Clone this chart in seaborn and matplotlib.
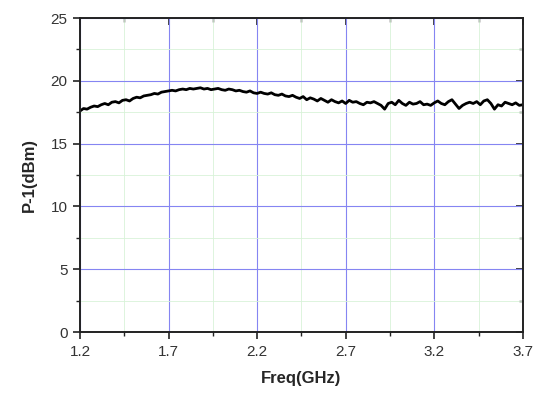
import numpy as np
import pandas as pd
import seaborn as sns
import matplotlib.pyplot as plt
from matplotlib.ticker import AutoMinorLocator

freq_ghz = np.round(np.arange(1.20, 3.7001, 0.02), 2)
p1_dbm = [
    17.6, 17.8, 17.75, 17.9, 18.0, 17.95, 18.1, 18.2, 18.1, 18.3, 18.35, 18.25, 18.45,
    18.5, 18.4, 18.6, 18.7, 18.65, 18.8, 18.85, 18.9, 19.0, 18.95, 19.1, 19.15, 19.2,
    19.25, 19.2, 19.3, 19.35, 19.3, 19.4, 19.35, 19.4, 19.45, 19.35, 19.4, 19.3, 19.35,
    19.4, 19.3, 19.25, 19.35, 19.3, 19.2, 19.25, 19.15, 19.1, 19.2, 19.05, 19.0,
    19.1, 19.0, 18.95, 19.05, 18.9, 18.85, 18.95, 18.8, 18.75, 18.85, 18.7, 18.6, 18.75,
    18.5, 18.65, 18.55, 18.4, 18.6, 18.45, 18.3, 18.5, 18.35, 18.25, 18.4, 18.2,
    18.45, 18.3, 18.35, 18.2, 18.1, 18.3, 18.25, 18.35, 18.2, 18.05, 17.75, 18.2, 18.3,
    18.1, 18.45, 18.2, 18.05, 18.3, 18.15, 18.2, 18.35, 18.1, 18.15, 18.05, 18.25,
    18.4, 18.2, 18.1, 18.35, 18.5, 18.15, 17.8, 18.05, 18.2, 18.3, 18.2, 18.35, 18.1,
    18.4, 18.5, 18.2, 17.75, 18.1, 18.0, 18.3, 18.2, 18.1, 18.25, 18.05, 18.1,
]
x_ticks = [1.2, 1.7, 2.2, 2.7, 3.2, 3.7]
y_ticks = [0, 5, 10, 15, 20, 25]

df = pd.DataFrame({'freq': freq_ghz, 'p1': p1_dbm})

sns.set_style('ticks')
plt.rcParams['font.family'] = ['Liberation Sans', 'DejaVu Sans']

fig = plt.figure(figsize=(5.44, 3.93), dpi=100)
ax = fig.add_axes([0.147, 0.155, 0.814, 0.799])

sns.lineplot(data=df, x='freq', y='p1', color='black', linewidth=2.0, ax=ax)

ax.set_xlim(1.2, 3.7)
ax.set_ylim(0, 25)
ax.set_xticks(x_ticks)
ax.set_xticklabels([str(v) for v in x_ticks])
ax.set_yticks(y_ticks)
ax.xaxis.set_minor_locator(AutoMinorLocator(2))
ax.yaxis.set_minor_locator(AutoMinorLocator(2))

ax.grid(which='major', color='#8585f2', linewidth=0.8)
ax.grid(which='minor', color='#d8f2d8', linewidth=0.6)
ax.set_axisbelow(True)

for s in ax.spines.values():
    s.set_color('#222222')
    s.set_linewidth(1.4)
    s.set_visible(True)

ax.tick_params(which='major', direction='out', length=5, width=1.2, labelsize=11,
               colors='#222222', labelcolor='#333333', pad=4)
ax.tick_params(which='minor', direction='out', length=3, width=1.0, colors='#222222')

# inward ticks on the top and right frame
top = ax.secondary_xaxis('top')
top.set_xticks(x_ticks)
top.xaxis.set_minor_locator(AutoMinorLocator(2))
top.tick_params(which='major', direction='in', length=5, width=1.2, labeltop=False, colors='#222222')
top.tick_params(which='minor', direction='in', length=3, width=1.0, colors='#222222')
top.spines['top'].set_visible(False)
top.grid(False)
right = ax.secondary_yaxis('right')
right.set_yticks(y_ticks)
right.yaxis.set_minor_locator(AutoMinorLocator(2))
right.tick_params(which='major', direction='in', length=5, width=1.2, labelright=False, colors='#222222')
right.tick_params(which='minor', direction='in', length=3, width=1.0, colors='#222222')
right.spines['right'].set_visible(False)
right.grid(False)

ax.set_xlabel('Freq(GHz)', fontsize=12, fontweight='bold', labelpad=9)
ax.set_ylabel('P-1(dBm)', fontsize=12, fontweight='bold', labelpad=10)

fig.savefig('out.png', dpi=100)
